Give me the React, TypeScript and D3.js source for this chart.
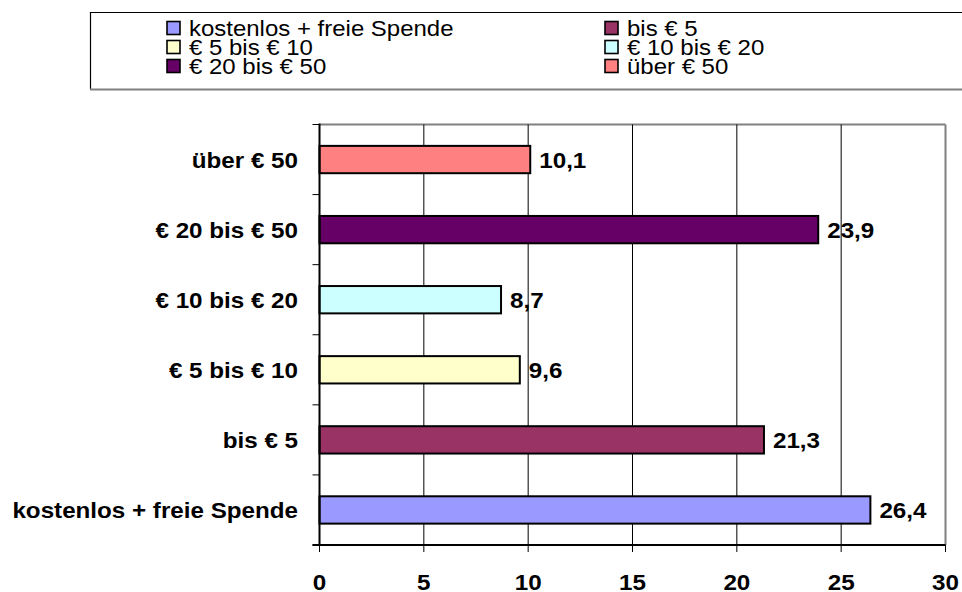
import React from "react";
import * as d3 from "d3";

const categories = [
  "kostenlos + freie Spende",
  "bis € 5",
  "€ 5 bis € 10",
  "€ 10 bis € 20",
  "€ 20 bis € 50",
  "über € 50",
];
const values = [26.4, 21.3, 9.6, 8.7, 23.9, 10.1];
const colors = ["#9999FF", "#993366", "#FFFFCC", "#CCFFFF", "#660066", "#FF8080"];
const xTicks = [0, 5, 10, 15, 20, 25, 30];
const valueLabels = ["26,4", "21,3", "9,6", "8,7", "23,9", "10,1"];

const W = 962;
const H = 592;
const FONT = "'Liberation Sans', Arial, Helvetica, sans-serif";
const SX = 1.1;

function SText({ x, y, anchor, weight, size, children }: any) {
  return (
    <g transform={`translate(${x},${y}) scale(${SX},1)`}>
      <text
        x={0}
        y={0}
        textAnchor={anchor}
        fontWeight={weight}
        fontSize={size}
        fontFamily={FONT}
        fill="#000"
      >
        {children}
      </text>
    </g>
  );
}

export default function App() {
  const left = 319.5;
  const right = 945.5;
  const top = 124.5;
  const bottom = 545;
  const x = d3.scaleLinear().domain([0, 30]).range([left, right]);
  const order = categories.slice().reverse();
  const y = d3.scaleBand<string>().domain(order).range([top, bottom]).padding(0);
  const step = y.step();
  const barH = step * 0.39;
  const boundaries = d3.range(categories.length + 1).map((i) => top + i * step);

  const legendCols = [167, 605];
  const legendRows = [28, 47, 66];

  return (
    <svg
      width={W}
      height={H}
      style={{ position: "absolute", left: 0, top: 0, background: "#fff" }}
    >
      <rect x={0} y={0} width={W} height={H} fill="#fff" />
      {/* Legend box */}
      <line x1={90} y1={12.5} x2={W} y2={12.5} stroke="#000" strokeWidth={1.2} />
      <line x1={90.5} y1={12} x2={90.5} y2={89} stroke="#000" strokeWidth={1.2} />
      <line x1={90} y1={89.5} x2={W} y2={89.5} stroke="#808080" strokeWidth={2} />
      {categories.map((c, i) => {
        const col = i % 2;
        const row = Math.floor(i / 2);
        const cx = legendCols[col];
        const cy = legendRows[row];
        return (
          <g key={c}>
            <rect
              x={cx}
              y={cy - 6.5}
              width={13}
              height={13}
              fill={colors[i]}
              stroke="#000"
              strokeWidth={1.6}
            />
            <SText x={cx + 22} y={cy + 7.5} anchor="start" weight="normal" size={21.8}>
              {c}
            </SText>
          </g>
        );
      })}

      {/* plot border (gray top/right) */}
      <line x1={left} y1={top} x2={right} y2={top} stroke="#808080" strokeWidth={2} />
      <line x1={right} y1={top} x2={right} y2={bottom} stroke="#808080" strokeWidth={2} />

      {/* gridlines */}
      {xTicks
        .filter((t) => t > 0 && t < 30)
        .map((t) => (
          <line key={t} x1={x(t)} x2={x(t)} y1={top} y2={bottom} stroke="#000" strokeWidth={1} />
        ))}

      {/* bars */}
      {categories.map((c, i) => {
        const yc = (y(c) as number) + step / 2;
        return (
          <g key={c}>
            <rect
              x={x(0)}
              y={yc - barH / 2}
              width={x(values[i]) - x(0)}
              height={barH}
              fill={colors[i]}
              stroke="#000"
              strokeWidth={2}
            />
            <SText x={x(values[i]) + 9} y={yc + 8} anchor="start" weight="bold" size={22}>
              {valueLabels[i]}
            </SText>
            <SText x={298} y={yc + 8} anchor="end" weight="bold" size={22}>
              {c}
            </SText>
          </g>
        );
      })}

      {/* axes */}
      <line x1={left} y1={top - 1} x2={left} y2={bottom} stroke="#000" strokeWidth={2} />
      {boundaries.map((b, i) => (
        <line key={i} x1={left - 7} x2={left} y1={b} y2={b} stroke="#000" strokeWidth={1} />
      ))}
      <line x1={left - 7} y1={bottom} x2={right} y2={bottom} stroke="#000" strokeWidth={2} />
      {xTicks.map((t) => (
        <g key={t}>
          <line x1={x(t)} x2={x(t)} y1={bottom} y2={bottom + 7} stroke="#000" strokeWidth={1} />
          <SText x={x(t)} y={589.5} anchor="middle" weight="bold" size={22}>
            {String(t)}
          </SText>
        </g>
      ))}
    </svg>
  );
}
